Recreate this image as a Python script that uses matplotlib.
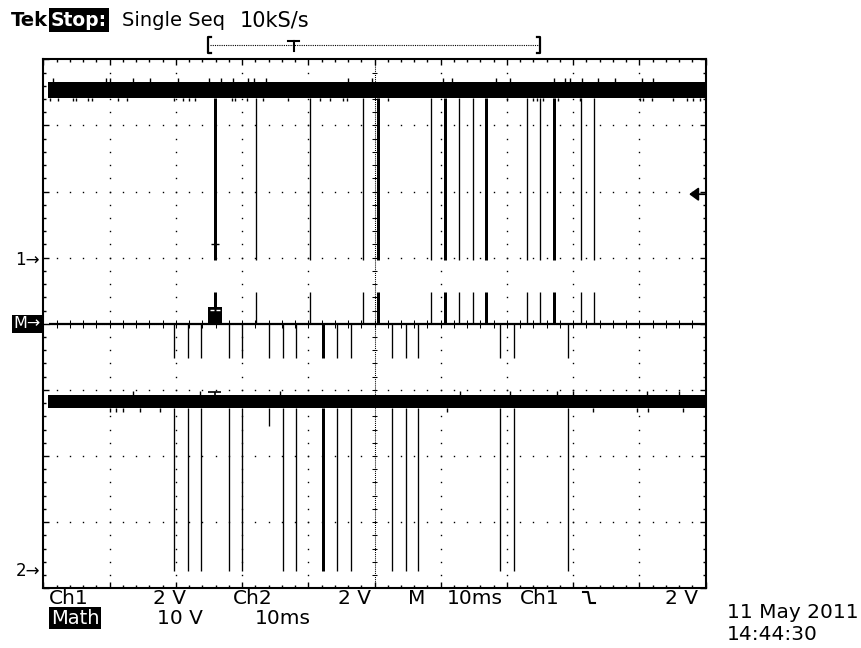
import numpy as np
import matplotlib.pyplot as plt

# screen: 10 div x 10 ms, 8 div vertical
ms_per_div = 10
t_start = 0.7          # first sample shown (ms)

# Ch1 (2 V/div): logic high with short low pulses
ch1_offset = 0.96      # ground marker, div
ch1_scale = 2.0
ch1_high = 5.15
ch1_noise = 0.24
ch1_pulse_t = [25.9, 32.1, 40.3, 48.3, 50.6, 58.6, 60.6, 62.8, 64.8, 66.9,
               73.0, 75.0, 77.1, 81.2, 83.2]
ch1_pulse_w = [0.45, 0.2, 0.2, 0.2, 0.45, 0.2, 0.45, 0.2, 0.2, 0.45,
               0.2, 0.2, 0.45, 0.2, 0.2]
ch1_spikes_up = [1.5, 9.5, 10.1, 13.5, 16.1, 20.3, 25.0, 26.9, 28.6, 30.9, 31.8,
                 33.6, 46.0, 49.6, 60.3, 61.7, 68.3, 70.5, 77.1, 78.8, 79.5,
                 81.3, 83.7, 86.3, 90.4, 92.0]
ch1_spikes_dn = [1.0, 2.2, 4.5, 4.9, 6.7, 7.4, 11.3, 12.6, 19.7, 21.1, 22.0,
                 22.9, 28.5, 28.9, 30.7, 33.2, 36.9, 41.8, 43.3, 45.2, 45.8,
                 52.0, 70.0, 73.9, 74.5, 75.4, 77.7, 81.0, 90.1, 90.5, 91.9,
                 95.1, 97.2, 98.1, 99.1]
ch1_cursor = (25.9, 0.48)

# Ch2 (2 V/div)
ch2_offset = -3.74
ch2_scale = 2.0
ch2_high = 5.13
ch2_noise = 0.21
ch2_pulse_t = [19.8, 21.8, 23.8, 28.0, 30.0, 34.1, 36.2, 38.2, 42.3, 44.4,
               46.4, 52.6, 54.7, 56.6, 69.0, 71.0, 79.2]
ch2_pulse_w = [0.2, 0.2, 0.2, 0.2, 0.2, 0.2, 0.2, 0.2, 0.45, 0.2,
               0.2, 0.2, 0.2, 0.2, 0.2, 0.2, 0.2]
ch2_pulse_low = [0, 0, 0, 0, 0, 4.4, 0, 0, 0, 0, 0, 0, 0, 0, 0, 0, 0]
ch2_spikes_up = [13.5, 23.7, 35.7, 62.9, 70.4, 77.5, 79.9, 91.1, 96.0]
ch2_spikes_dn = [10.1, 11.0, 12.0, 14.6, 17.6, 60.9, 83.0, 89.6, 91.3, 96.6]
ch2_cursor = (25.9, 5.41)

# Math (10 V/div)
math_offset = 0.0
math_scale = 10.0
math_up_v = 4.8
math_dn_v = -5.1
math_burst = (24.9, 27.0, 2.6)   # t0, t1, level

trig_level = 2.0   # V on Ch1

px_per_ms = 662.4 / 100


def div(v, offset, scale):
    return offset + np.asarray(v, dtype=float) / scale


def lw_of(w_ms):
    return np.asarray(w_ms) * px_per_ms * 0.72


fig = plt.figure(figsize=(8.61, 6.48), dpi=100)
plt.rcParams['font.family'] = ['DejaVu Sans']

# pixel space overlay for readouts around the graticule
ov = fig.add_axes([0, 0, 1, 1])
ov.set_xlim(0, 861)
ov.set_ylim(648, 0)
ov.axis('off')

ax = fig.add_axes([43.3 / 861, 1 - 588.3 / 648, 662.4 / 861, 529 / 648])
ax.set_xlim(0, 100)
ax.set_ylim(-4, 4)
ax.set_facecolor('white')
for s in ax.spines.values():
    s.set_linewidth(1.5)
ax.set_xticks(np.arange(0, 101, ms_per_div))
ax.set_xticks(np.arange(0, 101, 2), minor=True)
ax.set_yticks(np.arange(-4, 4.01, 1))
ax.set_yticks(np.arange(-4, 4.01, 0.2), minor=True)
ax.tick_params(which='both', direction='in', top=True, right=True,
               labelbottom=False, labelleft=False, width=1)
ax.tick_params(which='major', length=4)
ax.tick_params(which='minor', length=2.5)

# graticule dots
minor_x = np.arange(2, 100, 2)
minor_y = np.arange(-3.8, 4, 0.2)
dot = dict(ls='none', marker='s', ms=1.0, mew=0, color='black')
for xv in [10, 20, 30, 40, 60, 70, 80, 90]:
    ax.plot(np.full_like(minor_y, xv), minor_y, **dot)
for yv in [-3, -2, -1, 1, 2, 3]:
    ax.plot(minor_x, np.full_like(minor_x, yv, dtype=float), **dot)
# centre axes with tick marks
ax.axvline(50, ls=(0, (1, 1)), lw=0.75, color='black')
ax.axhline(0, ls=(0, (1, 1)), lw=0.75, color='black')
ax.hlines(minor_y, 49.55, 50.45, lw=0.75, color='black')
ax.vlines(minor_x, -0.06, 0.06, lw=0.75, color='black')


def draw_channel(offset, scale, high, noise, pulse_t, pulse_w, pulse_low,
                 spikes_up, spikes_dn):
    top = div(high + noise, offset, scale)
    bot = div(high - noise, offset, scale)
    ax.fill_between([t_start, 100], bot, top, color='black', lw=0, zorder=3)
    ax.vlines(pulse_t, div(pulse_low, offset, scale), bot,
              lw=lw_of(pulse_w), color='black', zorder=3)
    ax.vlines(spikes_up, top, top + 0.06, lw=1, color='black', zorder=3)
    ax.vlines(spikes_dn, bot - 0.05, bot, lw=1, color='black', zorder=3)


draw_channel(ch1_offset, ch1_scale, ch1_high, ch1_noise, ch1_pulse_t,
             ch1_pulse_w, 0.0, ch1_spikes_up, ch1_spikes_dn)
draw_channel(ch2_offset, ch2_scale, ch2_high, ch2_noise, ch2_pulse_t,
             ch2_pulse_w, ch2_pulse_low, ch2_spikes_up, ch2_spikes_dn)

# cursors on the first Ch1 pulse
cx, cv = ch1_cursor
ax.hlines(div(cv, ch1_offset, ch1_scale), cx - 0.6, cx + 0.6, lw=1, color='black', zorder=4)
cx, cv = ch2_cursor
ax.hlines(div(cv, ch2_offset, ch2_scale), cx - 1.0, cx + 1.0, lw=1.2, color='black', zorder=4)
ax.vlines(cx, div(ch2_high + ch2_noise, ch2_offset, ch2_scale),
          div(cv, ch2_offset, ch2_scale), lw=1.2, color='black', zorder=4)

# math trace
m0 = div(0, math_offset, math_scale)
ax.hlines(m0, t_start + 0.1, 100, lw=1.6, color='black', zorder=3)
ax.vlines(ch1_pulse_t, m0, div(math_up_v, math_offset, math_scale),
          lw=lw_of(ch1_pulse_w), color='black', zorder=3)
ax.vlines(ch2_pulse_t, div(math_dn_v, math_offset, math_scale), m0,
          lw=lw_of(ch2_pulse_w), color='black', zorder=3)
b0, b1, bv = math_burst
ax.fill_between([b0, b1], m0, div(bv, math_offset, math_scale),
                color='black', lw=0, zorder=3)
bw = float(div(bv * 0.82, math_offset, math_scale))
ax.hlines([bw, bw], [b0 + 0.3, (b0 + b1) / 2 + 0.15],
          [(b0 + b1) / 2 - 0.15, b1 - 0.3], lw=1, color='white', zorder=4)

# trigger level arrow on the right edge
ty = div(trig_level, ch1_offset, ch1_scale)
ax.annotate('', xy=(97.5, ty), xytext=(100, ty),
            arrowprops=dict(arrowstyle='-|>,head_length=0.55,head_width=0.4',
                            lw=1.3, color='black', shrinkA=0, shrinkB=0),
            annotation_clip=False, zorder=5)

# ground markers
ytr = ax.get_yaxis_transform()
ax.text(-0.042, ch1_offset, '1\u2192', transform=ytr, fontsize=12,
        va='center', ha='left')
ax.text(-0.042, ch2_offset, '2\u2192', transform=ytr, fontsize=12,
        va='center', ha='left')
ax.text(-0.0455, math_offset, 'M\u2192', transform=ytr, fontsize=11.5,
        va='center', ha='left', color='white',
        bbox=dict(fc='black', ec='none', pad=1.2))

# status line
fs_top = 14
ov.text(11, 20, 'Tek', fontsize=fs_top, fontweight='bold', va='center', ha='left')
ov.text(51, 20, 'Stop:', fontsize=fs_top - 0.5, fontweight='bold', va='center',
        ha='left', color='white', bbox=dict(fc='black', ec='none', pad=1.6))
ov.text(122, 20, 'Single Seq', fontsize=fs_top, va='center', ha='left')
ov.text(240, 20, '10kS/s', fontsize=fs_top + 1, va='center', ha='left')

# record position bar
ov.plot([211, 208, 208, 211], [37, 37, 53, 53], color='black', lw=1.6)
ov.plot([537, 540, 540, 537], [37, 37, 53, 53], color='black', lw=1.6)
ov.plot([210, 538], [45, 45], color='black', lw=0.8, ls=(0, (1, 1)))
ov.plot([288, 299], [41, 41], color='black', lw=1.5)
ov.plot([293.5, 293.5], [41, 51], color='black', lw=1.5)

# readouts under the graticule
fs = 14.5
r1, r2 = 598, 618
ov.text(49, r1, 'Ch1', fontsize=fs, va='center', ha='left')
ov.text(186, r1, '2 V', fontsize=fs, va='center', ha='right')
ov.text(233, r1, 'Ch2', fontsize=fs, va='center', ha='left')
ov.text(371, r1, '2 V', fontsize=fs, va='center', ha='right')
ov.text(408, r1, 'M', fontsize=fs, va='center', ha='left')
ov.text(447, r1, '10ms', fontsize=fs, va='center', ha='left')
ov.text(520, r1, 'Ch1', fontsize=fs, va='center', ha='left')
ov.plot([583, 588, 590, 595], [592, 592, 603, 603], color='black', lw=1.5)
ov.text(698, r1, '2 V', fontsize=fs, va='center', ha='right')
ov.text(51, r2, 'Math', fontsize=14, va='center',
        ha='left', color='white', bbox=dict(fc='black', ec='none', pad=1.2))
ov.text(157, r2, '10 V', fontsize=fs, va='center', ha='left')
ov.text(255, r2, '10ms', fontsize=fs, va='center', ha='left')
ov.text(727, 613, '11 May 2011', fontsize=fs, va='center', ha='left')
ov.text(727, 635, '14:44:30', fontsize=fs, va='center', ha='left')

fig.savefig('out.png', dpi=100)
